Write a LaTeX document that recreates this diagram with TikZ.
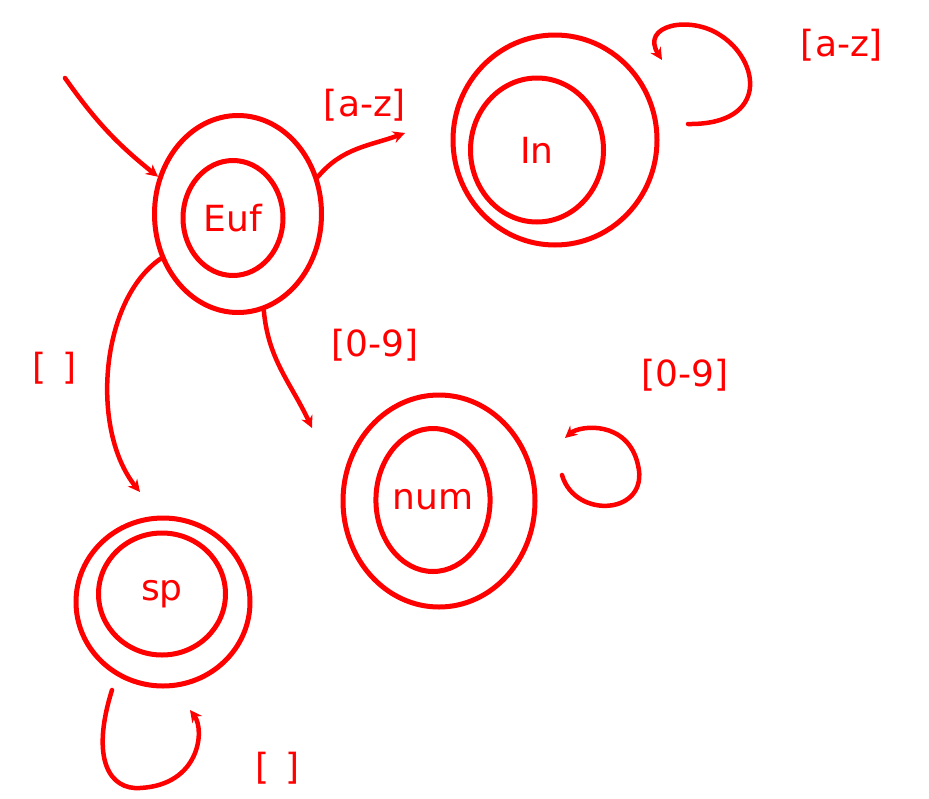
\documentclass[tikz,border=0pt]{standalone}
\usepackage{fontspec}
\setmainfont{DejaVu Sans}
\usetikzlibrary{shapes.geometric,arrows.meta}
\definecolor{pen}{RGB}{255,0,0}
\begin{document}
\begin{tikzpicture}[x=1pt,y=-1pt,
  ring/.style={ellipse,draw=pen,line width=5pt,inner sep=0pt},
  lbl/.style={text=pen,font=\fontsize{36}{40}\selectfont},
  edge/.style={draw=pen,line width=4.5pt,line cap=round,-{Stealth[length=12pt,width=12pt]}},
]
\useasboundingbox (0,0) rectangle (929,798);
% states
\node[ring,minimum width=167pt,minimum height=197pt] (eufo) at (238,214) {};
\node[ring,minimum width=100pt,minimum height=115pt,lbl] (euf) at (233,218) {Euf};
\node[ring,minimum width=204pt,minimum height=210pt] (ino) at (555,140) {};
\node[ring,minimum width=133pt,minimum height=144pt,lbl] (in) at (537,150) {In};
\node[ring,minimum width=192pt,minimum height=212pt] (numo) at (439,501) {};
\node[ring,minimum width=114pt,minimum height=143pt,lbl] (num) at (433,500) {num};
\node[ring,minimum width=174pt,minimum height=168pt] (spo) at (163,602) {};
\node[ring,minimum width=127pt,minimum height=122pt,lbl] (sp) at (162,594) {sp};
% free ends
\coordinate (s0) at (65,78);
\coordinate (t1) at (405,133);
\coordinate (t2) at (312,428);
\coordinate (t3) at (140,492);
\coordinate (l1a) at (662,60);
\coordinate (l1b) at (688,124);
\coordinate (l2a) at (562,475);
\coordinate (l2b) at (565,438);
\coordinate (l3a) at (112,690);
\coordinate (l3b) at (190,710);
% edges
\draw[edge] (s0) to[bend right=8] (eufo.155);
\draw[edge] (eufo.25) to[out=50,in=200] (t1);
\draw[edge] (eufo.-75) to[out=-85,in=115] (t2);
\draw[edge] (eufo.-150) .. controls (100,300) and (90,430) .. (t3);
\draw[edge] (l1b) .. controls (770,125) and (760,60) .. (720,35) .. controls (690,15) and (640,25) .. (l1a);
\draw[edge] (l2a) .. controls (575,520) and (650,515) .. (638,465) .. controls (628,420) and (580,425) .. (l2b);
\draw[edge] (l3a) .. controls (90,760) and (110,790) .. (140,788) .. controls (200,785) and (205,730) .. (l3b);
% labels
\node[lbl] (a1) at (365,105) {[a-z]};
\node[lbl] (a2) at (842,45) {[a-z]};
\node[lbl] (a3) at (375,345) {[0-9]};
\node[lbl] (a4) at (685,375) {[0-9]};
\node[lbl] (a5) at (55,368) {[\hspace{16pt}]};
\node[lbl] (a6) at (278,768) {[\hspace{16pt}]};
\end{tikzpicture}
\end{document}
